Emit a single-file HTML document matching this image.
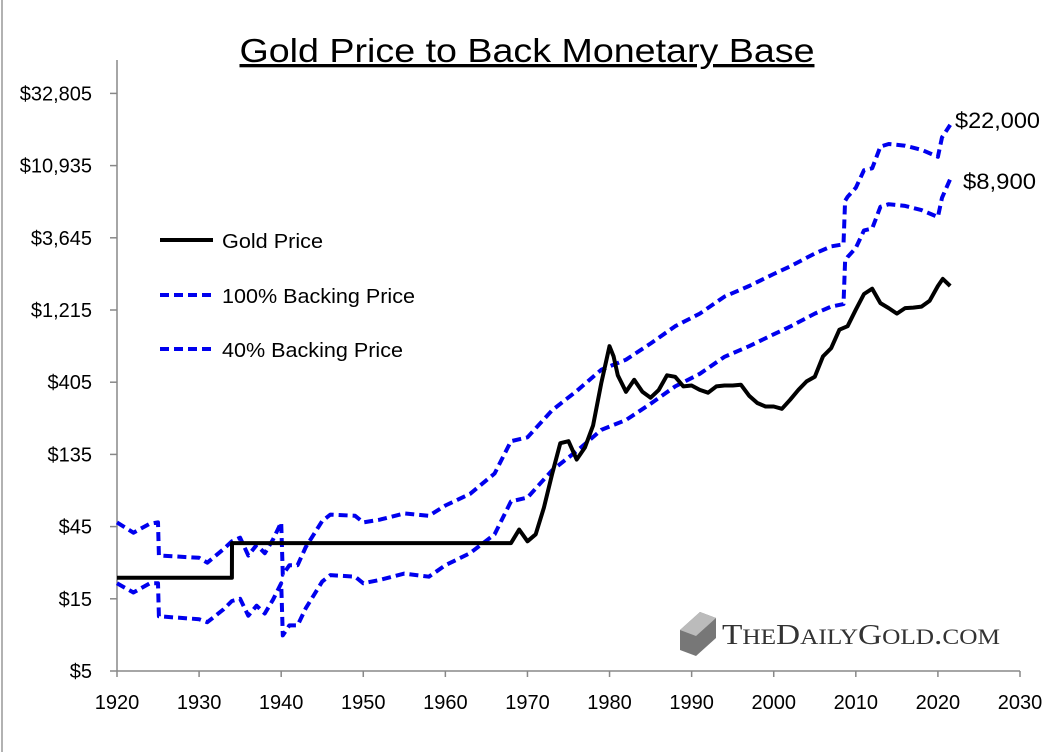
<!DOCTYPE html>
<html><head><meta charset="utf-8"><style>
body{margin:0;background:#fff}
svg{display:block;font-family:"Liberation Sans",sans-serif}
</style></head><body>
<svg id="chart" width="1055" height="752">
<rect x="2" y="-2" width="1060" height="760" fill="none" stroke="#999" stroke-width="1.5"/>
<text x="527" y="62" text-anchor="middle" font-size="33" textLength="575" lengthAdjust="spacingAndGlyphs" text-decoration="underline">Gold Price to Back Monetary Base</text>
<g id="axes"></g>
<g id="series"></g>
<g>
<g><line x1="160" y1="240" x2="213" y2="240" stroke="#000" stroke-width="4"/><text x="222" y="248" font-size="20" textLength="101" lengthAdjust="spacingAndGlyphs">Gold Price</text></g>
<g><line x1="160" y1="295" x2="213" y2="295" stroke="#0000ee" stroke-width="4" stroke-dasharray="9,5"/><text x="222" y="303" font-size="20" textLength="193" lengthAdjust="spacingAndGlyphs">100% Backing Price</text></g>
<g><line x1="160" y1="349" x2="213" y2="349" stroke="#0000ee" stroke-width="4" stroke-dasharray="9,5"/><text x="222" y="357" font-size="20" textLength="181" lengthAdjust="spacingAndGlyphs">40% Backing Price</text></g>
</g>
<text x="955" y="128" font-size="22" textLength="85" lengthAdjust="spacingAndGlyphs">$22,000</text>
<text x="963" y="189" font-size="22" textLength="73" lengthAdjust="spacingAndGlyphs">$8,900</text>
<g>
<polygon points="680,630 700,612 716,618 716,638 696,656 680,650" fill="#777"/>
<polygon points="680,630 700,612 716,618 696,636" fill="#bbb"/>
<text x="722" y="644" font-family="Liberation Serif,serif" font-size="29" fill="#333" textLength="278" lengthAdjust="spacingAndGlyphs">T<tspan font-size="22">HE</tspan>D<tspan font-size="22">AILY</tspan>G<tspan font-size="22">OLD</tspan>.<tspan font-size="22">COM</tspan></text>
</g>
</svg>
<script>
const yTicks=[5,15,45,135,405,1215,3645,10935,32805];
const yTickLabels=["$5","$15","$45","$135","$405","$1,215","$3,645","$10,935","$32,805"];
const xTicks=[1920,1930,1940,1950,1960,1970,1980,1990,2000,2010,2020,2030];
const fullYears=[1920,1922,1924,1925,1925.1,1930,1931,1933,1934,1935,1936,1937,1938,1939,1940,1940.2,1941,1942,1943,1945,1946,1949,1950,1952,1955,1958,1960,1963,1966,1968,1970,1973,1976,1979,1982,1985,1988,1991,1994,1997,2000,2002,2005,2007,2008.5,2008.7,2009,2010,2011,2012,2013,2014,2016,2018,2020,2020.5,2021.5];
const full100=[48,41,47,48,29,28,26,32,36,38,29,34,30,37,48,21.6,25,25,33,49,54,53,48,50,55,53,62,74,101,165,175,264,354,490,570,730,950,1150,1490,1750,2100,2360,2870,3200,3300,6400,6800,7800,10200,10500,14600,15200,14800,13900,12500,16800,20300];
const full40=[19,16.5,19,19,11.5,11,10.5,12.8,14.5,15,11.6,13.5,12,14.8,19,8.6,10,10,13,19.5,21.5,21,19,20,22,21,25,30,40,66,70,106,142,196,228,292,380,460,596,700,840,944,1150,1280,1330,2560,2720,3120,4080,4200,5840,6080,5920,5560,5000,6700,8900];
const goldYears=[1920,1934,1934.01,1968,1969,1970,1971,1972,1973,1974,1975,1976,1977,1978,1979,1980,1980.5,1981,1982,1983,1984,1985,1986,1987,1988,1989,1990,1991,1992,1993,1994,1995,1996,1997,1998,1999,2000,2001,2002,2003,2004,2005,2006,2007,2008,2009,2010,2011,2012,2013,2014,2015,2016,2017,2018,2019,2020,2020.6,2021.5];
const goldVals=[20.67,20.67,35,35,43,36,40,60,100,160,165,125,150,210,400,700,600,450,350,420,350,320,360,450,440,380,385,360,345,380,385,385,390,330,295,280,280,270,310,360,410,440,600,680,900,950,1220,1550,1680,1350,1250,1150,1250,1260,1280,1400,1750,1950,1750];
const NS="http://www.w3.org/2000/svg";
const X=yr=>117+(yr-1920)*(903/110);
const Y=v=>671-72.2*Math.log(v/5)/Math.log(3);
const axes=document.getElementById('axes'),ser=document.getElementById('series');
function mk(tag,attrs,parent){const e=document.createElementNS(NS,tag);for(const k in attrs)e.setAttribute(k,attrs[k]);parent.appendChild(e);return e;}
const yAxis=mk('line',{x1:117,y1:60,x2:117,y2:671,stroke:'#888','stroke-width':1.5},axes);


const xAxis=mk('line',{x1:117,y1:671,x2:1020,y2:671,stroke:'#888','stroke-width':1.5},axes);


yTicks.forEach((v,i)=>{const y=Y(v);
mk('line',{x1:110,y1:y,x2:117,y2:y,stroke:'#888','stroke-width':1.5},axes);
const t=mk('text',{x:92,y:y+7,'text-anchor':'end','font-size':20},axes);t.textContent=yTickLabels[i];

});
xTicks.forEach(yr=>{const x=X(yr);
mk('line',{x1:x,y1:671,x2:x,y2:677,stroke:'#888','stroke-width':1.5},axes);
const t=mk('text',{x:x,y:709,'text-anchor':'middle','font-size':20},axes);t.textContent=yr;

});
function path(xs,vs,attrs,name){const d=xs.map((x,i)=>(i?'L':'M')+X(x).toFixed(1)+','+Y(vs[i]).toFixed(1)).join('');
const p=mk('path',Object.assign({d:d,fill:'none','stroke-linejoin':'round'},attrs),ser);

}
path(fullYears,full100,{stroke:'#0000ee','stroke-width':4,'stroke-dasharray':'9,5'},'line-100-backing');
path(fullYears,full40,{stroke:'#0000ee','stroke-width':4,'stroke-dasharray':'9,5'},'line-40-backing');
path(goldYears,goldVals,{stroke:'#000','stroke-width':4},'line-gold-price');
</script>
</body></html>
